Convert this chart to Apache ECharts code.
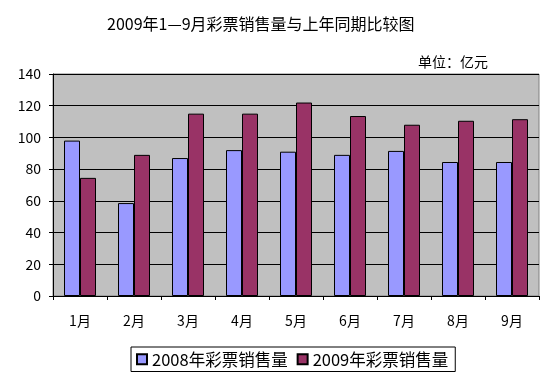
<!DOCTYPE html>
<html><head><meta charset="utf-8">
<script src="https://cdn.jsdelivr.net/npm/echarts@6/dist/echarts.min.js"></script>
<style>html,body{margin:0;padding:0;background:#fff}#c{width:554px;height:384px}</style>
</head><body><div id="c"></div>
<script>
const categories = ['1月','2月','3月','4月','5月','6月','7月','8月','9月'];
const sales2008 = [98, 58.6, 87, 92, 91, 89, 91.5, 84.5, 84.5];
const sales2009 = [74.5, 89, 115, 115, 122, 113.5, 108, 110.5, 111.5];
const seriesNames = ['2008年彩票销售量','2009年彩票销售量'];
const yTicks = [0, 20, 40, 60, 80, 100, 120, 140];
const titleText = '2009年1—9月彩票销售量与上年同期比较图';
const unitText = '单位：亿元';

const FONT = '"Noto Sans CJK SC", "DejaVu Sans", sans-serif';
const chart = echarts.init(document.getElementById('c'), null, {renderer:'canvas'});
chart.setOption({
  animation:false,
  backgroundColor:'#ffffff',
  title:[
    {text:titleText, left:107, top:16, padding:0, textStyle:{fontFamily:FONT, fontSize:16, fontWeight:'normal', color:'#000'}},
    {text:unitText, left:418, top:55, padding:0, textStyle:{fontFamily:FONT, fontSize:14, fontWeight:'normal', color:'#000'}}
  ],
  grid:{left:53, right:15, top:74, bottom:88, show:true, backgroundColor:'#C0C0C0', borderColor:'#808080', borderWidth:1},
  legend:{
    data:seriesNames, left:131, top:347, orient:'horizontal',
    itemWidth:10, itemHeight:10, itemGap:9, padding:[4,7,4,5],
    borderColor:'#000', borderWidth:1, backgroundColor:'#fff',
    textStyle:{fontFamily:FONT, fontSize:16.5, color:'#000'},
    icon:'rect'
  },
  xAxis:{
    type:'category', data:categories,
    axisLine:{lineStyle:{color:'#000', width:1}},
    axisTick:{show:true, inside:false, length:4, lineStyle:{color:'#000'}, alignWithLabel:false},
    axisLabel:{fontFamily:FONT, fontSize:14, color:'#000', margin:18}
  },
  yAxis:{
    type:'value', min:0, max:140, interval:20,
    axisLine:{show:true, lineStyle:{color:'#000'}},
    axisTick:{show:true, length:4, lineStyle:{color:'#000'}},
    axisLabel:{fontFamily:FONT, fontSize:14, color:'#000', margin:12,
      formatter:function(v){return yTicks.indexOf(v)>=0 ? String(v) : '';}},
    splitLine:{show:true, lineStyle:{color:'#000', width:1}}
  },
  series:[
    {name:seriesNames[0], type:'bar', data:sales2008, barWidth:16, barGap:'0%',
      itemStyle:{color:'#9999FF', borderColor:'#000', borderWidth:1}},
    {name:seriesNames[1], type:'bar', data:sales2009, barWidth:16, barGap:'0%',
      itemStyle:{color:'#993366', borderColor:'#000', borderWidth:1}}
  ]
});
</script></body></html>
